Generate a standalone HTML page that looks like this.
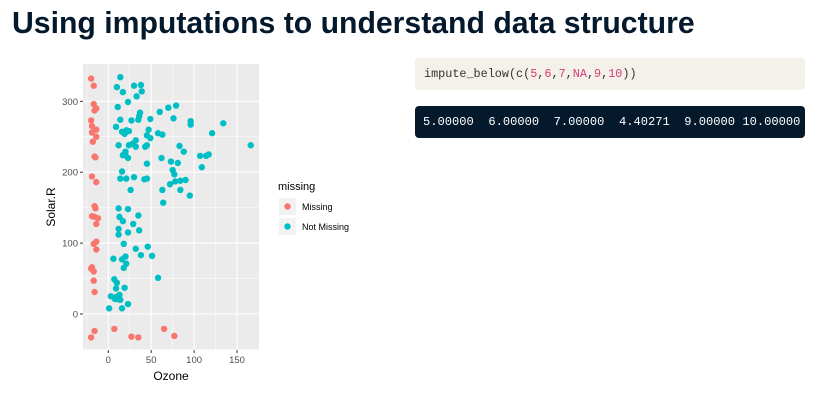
<!DOCTYPE html>
<html><head><meta charset="utf-8"><style>
body{margin:0;width:824px;height:404px;background:#fff;overflow:hidden;position:relative;font-family:"Liberation Sans",sans-serif}
h1{position:absolute;left:12px;top:7px;margin:0;font-size:30.2px;font-weight:bold;color:#05192d;white-space:nowrap}
.code{position:absolute;left:415px;width:390px;height:32px;border-radius:4px;font-family:"Liberation Mono",monospace;line-height:32px;padding-left:9px;box-sizing:border-box;white-space:nowrap}
</style></head><body>
<h1>Using imputations to understand data structure</h1>
<div class="code" style="top:58px;background:#f4f1ea;color:#333;font-size:11.8px">impute_below(c(<span style="color:#d63b7a">5</span>,<span style="color:#d63b7a">6</span>,<span style="color:#d63b7a">7</span>,<span style="color:#d63b7a">NA</span>,<span style="color:#d63b7a">9</span>,<span style="color:#d63b7a">10</span>))</div>
<div class="code" style="top:106px;background:#05192d;color:#fff;padding-left:8px;font-size:12.1px">5.00000&nbsp; 6.00000&nbsp; 7.00000&nbsp; 4.40271&nbsp; 9.00000 10.00000</div>
<svg id="chart" width="824" height="404" style="position:absolute;left:0;top:0"></svg>
<script>
const missX=[-20,-17,-17,-14,-16,-20,-19,-14,-19,-14,-18,-16,-15,-19,-14,-16,-15,-19,-16,-12,-14,-17,-14,-14,-19,-20,-17,-17,-16,-16,-20,7,27,35,65,77];
const missY=[332,322,296,290,287,273,265,260,256,250,243,222,221,194,186,152,149,138,137,135,127,99,102,91,66,64,60,47,31,-24,-33,-21,-32,-33,-21,-31];
const okX=[14,10,30,38,39,17,33,23,11,70,79,60,37,36,14,27,35,49,76,96,96,134,9,47,16,21,24,58,63,121,19,45,49,32,12,24,28,32,43,45,83,166,88,20,20,17,23,62,73,81,45,107,114,117,109,75,77,16,14,21,30,42,45,72,78,84,90,26,63,84,95,64,12,23,35,13,17,29,12,36,23,12,18,46,32,38,51,20,6,16,21,18,58,7,10,9,19,3,13,8,11,14,9,23,1,16];
const okY=[334,320,322,323,314,313,307,299,292,291,294,285,284,279,274,273,274,275,276,272,267,269,264,260,257,259,258,255,253,255,254,252,248,245,238,238,240,236,236,238,237,238,229,229,224,224,220,220,215,213,212,223,223,225,207,203,197,201,191,191,193,190,191,183,187,188,189,175,175,175,167,157,149,148,139,137,131,127,120,118,115,112,99,95,92,83,82,81,78,77,71,65,51,49,44,36,37,25,27,21,21,20,24,14,8,8];
const xTicks=[0,50,100,150], yTicks=[0,100,200,300];
const xMinor=[-25,25,75,125], yMinor=[-50,50,150,250];
const svg=document.getElementById('chart'),NS='http://www.w3.org/2000/svg';
const X=v=>108.3+v*0.858, Y=v=>314-v*0.709;
const P={l:83,r:259,t:64,b:350};
function mk(t,a,p){const e=document.createElementNS(NS,t);for(const k in a)e.setAttribute(k,a[k]);(p||svg).appendChild(e);return e;}
const bg=mk('rect',{x:P.l,y:P.t,width:P.r-P.l,height:P.b-P.t,fill:'#ebebeb'});


xMinor.forEach(v=>{const l=mk('line',{x1:X(v),x2:X(v),y1:P.t,y2:P.b,stroke:'#fff','stroke-width':0.5});});
yMinor.forEach(v=>{const l=mk('line',{x1:P.l,x2:P.r,y1:Y(v),y2:Y(v),stroke:'#fff','stroke-width':0.5});});
xTicks.forEach(v=>{const l=mk('line',{x1:X(v),x2:X(v),y1:P.t,y2:P.b,stroke:'#fff','stroke-width':1.1});
mk('line',{x1:X(v),x2:X(v),y1:P.b,y2:P.b+3,stroke:'#333'});
const t=mk('text',{x:X(v),y:P.b+13,'text-anchor':'middle','font-size':9.5,fill:'#4d4d4d'});t.textContent=v;});
yTicks.forEach(v=>{const l=mk('line',{x1:P.l,x2:P.r,y1:Y(v),y2:Y(v),stroke:'#fff','stroke-width':1.1});
mk('line',{x1:P.l-3,x2:P.l,y1:Y(v),y2:Y(v),stroke:'#333'});
const t=mk('text',{x:P.l-5,y:Y(v)+3.5,'text-anchor':'end','font-size':9.5,fill:'#4d4d4d'});t.textContent=v;});
missX.forEach((v,i)=>{const c=mk('circle',{cx:X(v),cy:Y(missY[i]),r:3.2,fill:'#F8766D'});});
okX.forEach((v,i)=>{const c=mk('circle',{cx:X(v),cy:Y(okY[i]),r:3.2,fill:'#00BFC4'});});
let t=mk('text',{x:171,y:380,'text-anchor':'middle','font-size':12,fill:'#000'});t.textContent='Ozone';
t=mk('text',{x:0,y:0,'text-anchor':'middle','font-size':12,fill:'#000',transform:'translate(55,207) rotate(-90)'});t.textContent='Solar.R';
t=mk('text',{x:278,y:190,'font-size':11,fill:'#000'});t.textContent='missing';
[['Missing','#F8766D',207],['Not Missing','#00BFC4',227]].forEach(([n,c,y])=>{
const r=mk('rect',{x:279,y:y-9,width:17,height:17,fill:'#f2f2f2'});
const d=mk('circle',{cx:287.5,cy:y-0.5,r:3.2,fill:c});
const tt=mk('text',{x:302,y:y+3,'font-size':9,fill:'#000'});tt.textContent=n;});
</script>
</body></html>
